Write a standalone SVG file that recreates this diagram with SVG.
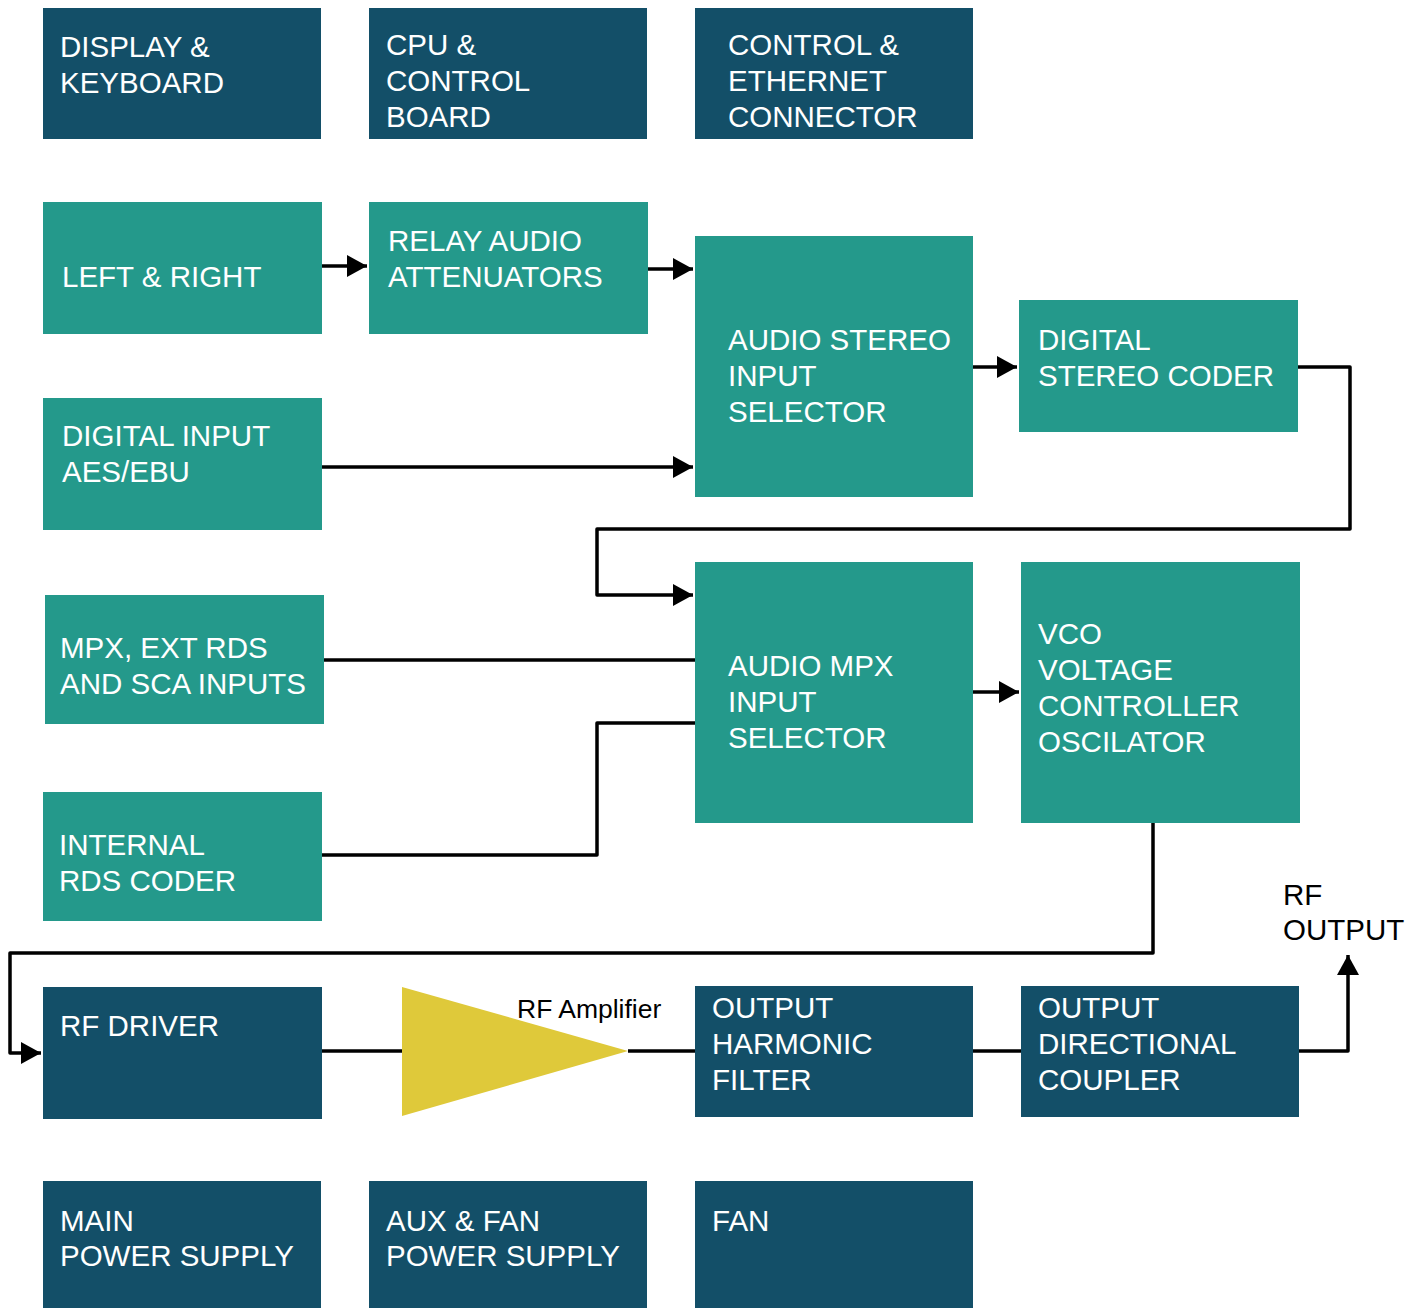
<svg xmlns="http://www.w3.org/2000/svg" width="1422" height="1308" viewBox="0 0 1422 1308">
<style>
.d{fill:#134F68}
.t{fill:#24998B}
.l{font-family:"Liberation Sans",Arial,sans-serif;font-size:29.5px;fill:#ffffff}
.k{font-family:"Liberation Sans",Arial,sans-serif;fill:#000000}
.c{fill:none;stroke:#000;stroke-width:3.5;stroke-linejoin:round}
</style>
<defs>
<marker id="a" markerUnits="userSpaceOnUse" markerWidth="24" markerHeight="24" viewBox="0 0 24 24" refX="22" refY="12" orient="auto">
<path d="M2,1 L22,12 L2,23 Z" fill="#000"/>
</marker>
</defs>
<rect width="1422" height="1308" fill="#fff"/>
<g id="connectors">
<path class="c" d="M322,266 H367" marker-end="url(#a)"/>
<path class="c" d="M648,269 H693" marker-end="url(#a)"/>
<path class="c" d="M322,467 H693" marker-end="url(#a)"/>
<path class="c" d="M973,367 H1017" marker-end="url(#a)"/>
<path class="c" d="M1298,367 H1350 V529 H597 V595 H693" marker-end="url(#a)"/>
<path class="c" d="M324,660 H695"/>
<path class="c" d="M319,855 H597 V723 H695"/>
<path class="c" d="M973,692 H1019" marker-end="url(#a)"/>
<path class="c" d="M1153,823 V953 H10 V1053 H41" marker-end="url(#a)"/>
<path class="c" d="M319,1051 H402"/>
<path class="c" d="M628,1051 H695"/>
<path class="c" d="M973,1051 H1021"/>
<path class="c" d="M1299,1051 H1348 V955" marker-end="url(#a)"/>
</g>
<g id="display-keyboard"><rect class="d" x="43" y="8" width="278" height="131"/><text class="l" x="60" y="57">DISPLAY &amp;</text><text class="l" x="60" y="93">KEYBOARD</text></g>
<g id="cpu-control"><rect class="d" x="369" y="8" width="278" height="131"/><text class="l" x="386" y="55">CPU &amp;</text><text class="l" x="386" y="91">CONTROL</text><text class="l" x="386" y="127">BOARD</text></g>
<g id="control-ethernet"><rect class="d" x="695" y="8" width="278" height="131"/><text class="l" x="728" y="55">CONTROL &amp;</text><text class="l" x="728" y="91">ETHERNET</text><text class="l" x="728" y="127">CONNECTOR</text></g>
<g id="left-right"><rect class="t" x="43" y="202" width="279" height="132"/><text class="l" x="62" y="287">LEFT &amp; RIGHT</text></g>
<g id="relay-audio"><rect class="t" x="369" y="202" width="279" height="132"/><text class="l" x="388" y="251">RELAY AUDIO</text><text class="l" x="388" y="287">ATTENUATORS</text></g>
<g id="audio-stereo"><rect class="t" x="695" y="236" width="278" height="261"/><text class="l" x="728" y="350">AUDIO STEREO</text><text class="l" x="728" y="386">INPUT</text><text class="l" x="728" y="422">SELECTOR</text></g>
<g id="digital-stereo-coder"><rect class="t" x="1019" y="300" width="279" height="132"/><text class="l" x="1038" y="350">DIGITAL</text><text class="l" x="1038" y="386">STEREO CODER</text></g>
<g id="digital-input"><rect class="t" x="43" y="398" width="279" height="132"/><text class="l" x="62" y="446">DIGITAL INPUT</text><text class="l" x="62" y="482">AES/EBU</text></g>
<g id="mpx-inputs"><rect class="t" x="45" y="595" width="279" height="129"/><text class="l" x="60" y="658">MPX, EXT RDS</text><text class="l" x="60" y="694">AND SCA INPUTS</text></g>
<g id="audio-mpx"><rect class="t" x="695" y="562" width="278" height="261"/><text class="l" x="728" y="676">AUDIO MPX</text><text class="l" x="728" y="712">INPUT</text><text class="l" x="728" y="748">SELECTOR</text></g>
<g id="vco"><rect class="t" x="1021" y="562" width="279" height="261"/><text class="l" x="1038" y="644">VCO</text><text class="l" x="1038" y="680">VOLTAGE</text><text class="l" x="1038" y="716">CONTROLLER</text><text class="l" x="1038" y="752">OSCILATOR</text></g>
<g id="internal-rds"><rect class="t" x="43" y="792" width="279" height="129"/><text class="l" x="59" y="855">INTERNAL</text><text class="l" x="59" y="891">RDS CODER</text></g>
<g id="rf-driver"><rect class="d" x="43" y="987" width="279" height="132"/><text class="l" x="60" y="1036">RF DRIVER</text></g>
<g id="rf-amplifier"><polygon points="402,987 402,1116 628,1051" fill="#DFC93A"/><text class="k" x="517" y="1018" font-size="26.5">RF Amplifier</text></g>
<g id="output-harmonic"><rect class="d" x="695" y="986" width="278" height="131"/><text class="l" x="712" y="1018">OUTPUT</text><text class="l" x="712" y="1054">HARMONIC</text><text class="l" x="712" y="1090">FILTER</text></g>
<g id="output-coupler"><rect class="d" x="1021" y="986" width="278" height="131"/><text class="l" x="1038" y="1018">OUTPUT</text><text class="l" x="1038" y="1054">DIRECTIONAL</text><text class="l" x="1038" y="1090">COUPLER</text></g>
<g id="rf-output"><text class="k" x="1283" y="905" font-size="29.5">RF</text><text class="k" x="1283" y="940" font-size="29.5">OUTPUT</text></g>
<g id="main-power"><rect class="d" x="43" y="1181" width="278" height="127"/><text class="l" x="60" y="1231">MAIN</text><text class="l" x="60" y="1266">POWER SUPPLY</text></g>
<g id="aux-fan-power"><rect class="d" x="369" y="1181" width="278" height="127"/><text class="l" x="386" y="1231">AUX &amp; FAN</text><text class="l" x="386" y="1266">POWER SUPPLY</text></g>
<g id="fan"><rect class="d" x="695" y="1181" width="278" height="127"/><text class="l" x="712" y="1231">FAN</text></g>
</svg>
